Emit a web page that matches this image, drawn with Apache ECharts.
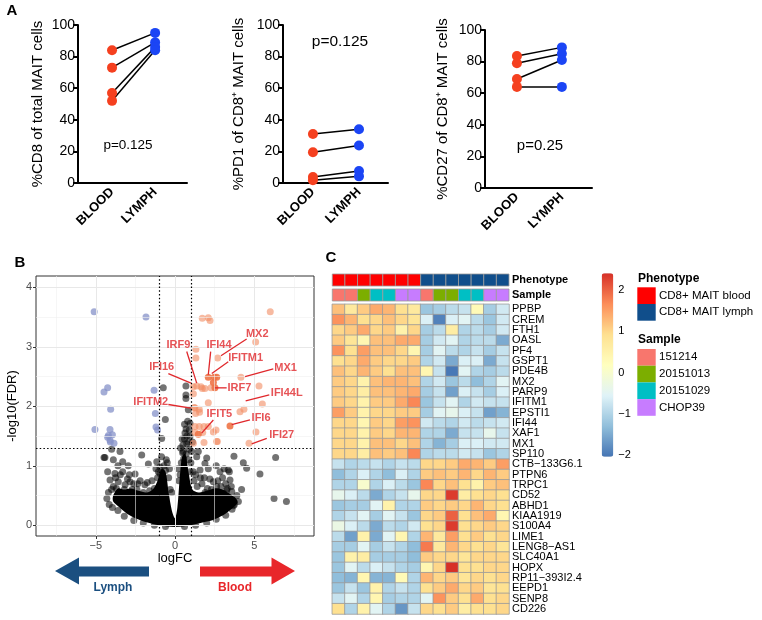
<!DOCTYPE html>
<html><head><meta charset="utf-8">
<script src="https://cdn.jsdelivr.net/npm/echarts@6/dist/echarts.min.js"></script>
<style>html,body{margin:0;padding:0;background:#fff}#c{width:762px;height:620px}</style>
</head><body><div id="c"></div>
<script>
// ---------- Panel A data ----------
const pairCategories = ['BLOOD', 'LYMPH'];
const cd8Blood = [84, 73, 57, 52];
const cd8Lymph = [95, 89, 86, 84];
const pd1Blood = [31, 19.5, 3.8, 1.7];
const pd1Lymph = [34, 23.7, 7.6, 4.2];
const cd27Blood = [83.5, 79, 69, 64];
const cd27Lymph = [89, 85, 81, 64];
const pValueTexts = ['p=0.125', 'p=0.125', 'p=0.25'];
const panelATicks = [0, 20, 40, 60, 80, 100];

// ---------- Panel B data (logFC, -log10 FDR) ----------
const volcanoXTicks = [-5, 0, 5];
const volcanoYTicks = [0, 1, 2, 3, 4];
const fcThresholds = [-1, 1];
const fdrThreshold = 1.301;
const denseCore = [
  [-3.9,0.5],[-3.6,0.62],[-3.2,0.6],[-2.8,0.62],[-2.3,0.58],[-1.8,0.55],[-1.4,0.6],[-1.1,0.75],[-0.85,0.95],
  [-0.6,0.9],[-0.4,0.55],[-0.2,0.25],[0.0,0.12],[0.15,0.3],[0.3,0.8],[0.45,1.15],[0.65,1.2],[0.85,0.9],
  [1.1,0.6],[1.5,0.55],[2.0,0.58],[2.5,0.62],[3.0,0.6],[3.5,0.52],[3.85,0.45],[3.95,0.38],[3.45,0.25],[2.9,0.15],
  [2.4,0.09],[1.8,0.05],[1.0,0.0],[0,-0.03],[-1.0,0.0],[-1.8,0.05],[-2.5,0.12],[-3.05,0.2],[-3.5,0.3],[-3.9,0.4]
];
const notSigPts = [
  [-4.0,1.28],[-4.48,1.14],[-3.47,1.24],[-3.89,1.10],[-3.3,1.07],[-2.1,1.18],[-3.79,0.87],[-3.3,0.90],[-2.88,0.85],
  [-2.52,0.86],[-1.68,1.03],[-0.49,1.05],[-0.95,0.98],[-0.95,0.87],[-4.1,0.76],[-3.89,0.65],[-3.58,0.73],[-3.15,0.68],
  [-2.84,0.73],[-2.6,0.7],[-4.42,1.14],[-1.15,1.07],[-0.84,1.46],[-0.78,0.62],[-4.2,0.55],[-4.0,0.6],[-3.7,0.62],
  [-3.2,0.6],[-2.4,0.6],[-2.0,0.55],[-1.6,0.58],[-1.3,0.62],[-1.1,0.8],[-1.05,0.9],[-0.7,1.0],[-0.6,0.92],[-0.4,0.8],
  [-0.3,0.6],[-0.85,1.15],[-0.7,0.45],[-2.2,0.75],[-1.9,0.68],[-4.3,0.45],[-4.15,0.35],[-3.95,0.3],
  [-3.75,0.8],[-3.45,0.85],[-3.0,0.78],[-2.7,0.6],[-2.35,0.7],[-1.75,0.72],[-1.45,0.75],[-1.2,0.95],[-0.55,1.1],
  [-0.35,0.95],[-0.2,0.55],[-4.25,0.9],[-3.6,1.0],[-2.95,1.0],
  [-0.74,2.31],[-0.61,1.78],[0.69,2.34],[0.69,2.19],[0.69,2.13],[0.84,1.94],[0.95,1.71],[0.8,1.75],[0.9,1.6],
  [0.6,1.45],[0.75,1.5],[0.5,1.35],
  [0.32,0.85],[0.52,1.24],[0.74,1.37],[0.63,1.55],[0.48,1.22],[0.55,1.12],[0.7,1.2],[0.85,1.1],[0.9,1.28],[0.4,1.05],
  [0.25,0.75],[0.6,0.95],[0.95,0.9],[1.05,1.24],[1.37,1.15],[1.58,0.93],[1.89,1.04],[1.47,1.24],[2.0,1.13],[1.2,0.75],
  [1.4,0.65],[1.7,0.7],
  [0.2,0.95],[0.35,1.3],[0.45,1.45],[0.6,1.7],[0.7,1.62],[0.85,1.4],[1.0,1.05],[1.15,0.9],[1.3,0.85],[1.6,0.8],
  [1.85,0.8],[2.2,0.78],[2.7,0.75],[3.1,0.95],[3.3,0.62],[3.55,0.65],[2.1,0.95],[2.6,1.0],[4.2,0.6],[1.1,1.4],[0.95,1.5],
  [2.42,0.73],[2.84,0.90],[3.43,0.90],[3.72,1.16],[4.31,1.05],[4.52,0.96],[5.36,0.86],[6.35,1.14],[6.25,0.45],[7.03,0.40],
  [3.26,0.59],[3.58,0.57],[3.05,0.54],[2.63,0.65],[2.04,0.62],[3.36,0.93],[3.47,0.76],[3.68,0.33],[2.3,0.6],[2.9,0.65],
  [3.9,0.5],[4.0,0.4],[1.9,0.55],[2.5,0.55],[3.2,0.7],[3.0,0.8],
  [-3.6,0.25],[-3.2,0.15],[-2.6,0.08],[-2.0,0.04],[-1.3,0.0],[-0.6,-0.02],[0.6,-0.02],[1.3,0.0],[2.0,0.04],[2.6,0.1],
  [3.2,0.17],[3.6,0.27],[3.75,0.35]
];
const lymphUpPts = [
  [-5.1,3.59],[-1.83,3.5],[-4.25,2.31],[-4.48,2.24],[-1.32,2.27],[-4.06,1.95],[-1.24,1.88],[-5.05,1.61],[-4.1,1.61],
  [-3.95,1.52],[-4.2,1.51],[-4.1,1.43],[-3.85,1.38],[-1.2,1.65],[-1.1,1.60],[-4.25,1.48],[-4.08,1.40]
];
const bloodUpPts = [
  [6.01,3.59],[1.72,3.48],[2.1,3.49],[2.21,3.44],[5.09,3.08],[1.32,2.96],[1.32,2.81],[2.69,2.81],[4.16,2.49],[5.3,2.34],
  [1.16,2.33],[1.37,2.34],[1.64,2.33],[1.72,2.30],[1.89,2.30],[2.27,2.31],[1.16,2.21],[2.1,2.06],[5.51,2.04],[1.22,1.98],
  [1.53,1.95],[4.1,1.91],[4.35,1.95],[1.3,1.88],[1.55,1.9],[1.26,1.66],[1.53,1.66],[1.26,1.56],[1.75,1.56],[2.42,1.57],
  [2.63,1.41],[5.11,1.57],[4.67,1.38],[1.16,1.38],[1.83,1.39],[1.26,1.97],[1.83,1.66],[2.1,1.66],[2.59,1.6],[2.67,1.41]
];
const bloodLabeledPts = [[2.1,2.49],[2.48,2.49],[2.63,2.49],[2.42,2.40],[2.52,2.31],[3.47,1.67],[1.47,1.53]];
const geneLabels = ['IRF9','IFI44','MX2','IFITM1','IFI16','MX1','IRF7','IFI44L','IFITM2','IFIT5','IFI6','IFI27'];
const geneLabelAnchors = [[0.21,3.03],[2.78,3.03],[5.19,3.21],[4.46,2.81],[-0.84,2.66],[6.98,2.64],[4.06,2.31],[7.05,2.22],[-1.53,2.07],[2.8,1.87],[5.43,1.81],[6.73,1.51]];
const geneLeaders = [
  [0.74,2.92,1.37,2.39],[2.25,2.92,2.1,2.53],[4.52,3.13,2.9,2.85],[3.36,2.75,2.32,2.55],[-0.42,2.55,1.01,2.39],
  [6.2,2.63,4.42,2.50],[3.26,2.31,2.52,2.31],[5.95,2.19,4.46,2.09],[-0.42,2.03,0.99,1.97],[2.42,1.77,1.68,1.55],
  [4.73,1.77,3.58,1.69],[5.79,1.46,4.84,1.37]
];

// ---------- Panel C data ----------
const genes = ['PPBP','CREM','FTH1','OASL','PF4','GSPT1','PDE4B','MX2','PARP9','IFITM1','EPSTI1','IFI44','XAF1','MX1','SP110',
  'CTB\u2212133G6.1','PTPN6','TRPC1','CD52','ABHD1','KIAA1919','S100A4','LIME1','LENG8\u2212AS1','SLC40A1','HOPX','RP11\u2212393I2.4','EEPD1','SENP8','CD226'];
const columnIds = ['c1','c2','c3','c4','c5','c6','c7','c8','c9','c10','c11','c12','c13','c14'];
const columnPhenotype = ['CD8+ MAIT blood','CD8+ MAIT blood','CD8+ MAIT blood','CD8+ MAIT blood','CD8+ MAIT blood','CD8+ MAIT blood','CD8+ MAIT blood',
  'CD8+ MAIT lymph','CD8+ MAIT lymph','CD8+ MAIT lymph','CD8+ MAIT lymph','CD8+ MAIT lymph','CD8+ MAIT lymph','CD8+ MAIT lymph'];
const columnSample = ['151214','151214','20151013','20151029','20151029','CHOP39','CHOP39','151214','20151013','20151013','20151029','20151029','CHOP39','CHOP39'];
const phenotypeLevels = ['CD8+ MAIT blood','CD8+ MAIT lymph'];
const sampleLevels = ['151214','20151013','20151029','CHOP39'];
const colorbarTicks = [-2, -1, 0, 1, 2];
const heatMin = -2.03, heatMax = 2.39;
const heatValues = [
 [1.2,0.7,1.1,1.4,1.3,0.9,0.7,-1.2,-1.1,-0.9,-0.8,0.3,-1.1,-0.7],
 [1.6,1.3,0.9,1.0,1.2,1.0,0.8,-0.6,-1.9,-0.6,-0.5,-0.9,-1.2,-0.7],
 [1.0,1.1,1.4,1.0,1.1,0.5,1.0,-1.1,-0.9,0.6,-1.0,-0.9,-1.1,-0.7],
 [1.1,0.8,0.4,1.2,1.2,1.4,1.4,-1.1,-0.7,-0.5,-1.0,-0.9,-0.9,-1.5],
 [1.6,0.9,1.5,1.2,1.2,1.0,0.4,-1.1,-0.5,-0.9,-1.0,-0.8,-1.1,-0.8],
 [0.9,1.0,1.4,1.1,1.0,1.0,1.1,-1.0,-0.7,-1.5,-0.6,-0.6,-1.5,-0.8],
 [1.2,1.0,1.3,1.1,0.9,1.2,1.2,0.4,-0.8,-2.0,-0.5,-1.0,-1.1,-0.9],
 [1.1,1.0,0.5,1.2,1.3,1.3,1.2,-1.0,-0.7,-1.2,-0.9,-1.3,-1.0,-0.5],
 [1.1,1.0,0.6,1.2,1.2,1.3,1.4,-1.1,-0.8,-1.6,-0.6,-0.8,-1.1,-0.6],
 [1.1,1.0,0.5,1.1,1.1,1.4,1.7,-1.2,-0.8,-0.5,-1.0,-0.7,-0.8,-0.8],
 [1.5,1.1,0.5,1.0,1.0,1.1,1.1,-1.1,-0.5,-0.4,-0.6,-0.8,-1.6,-1.4],
 [1.0,1.0,0.4,1.1,1.0,1.5,1.6,-0.7,-0.9,-1.0,-0.7,-0.9,-0.8,-0.7],
 [1.0,1.0,0.5,1.1,1.0,1.3,1.3,-1.0,-1.0,-1.5,-0.8,-0.8,-0.4,-0.8],
 [1.0,1.0,0.5,1.2,1.2,1.0,1.2,-1.0,-1.4,-1.1,-0.6,-0.6,-0.7,-0.7],
 [1.0,1.0,0.6,1.2,1.1,1.2,1.7,-1.0,-0.9,-0.9,-0.7,-0.8,-1.2,-1.0],
 [-0.8,-1.0,-0.9,-0.8,-1.0,-0.8,-0.9,1.0,1.0,1.1,1.4,1.3,1.1,1.5],
 [-1.3,-1.0,-0.6,-1.0,-1.3,-0.6,-1.0,1.1,1.2,1.1,1.3,1.0,1.3,1.1],
 [-1.0,-1.0,0.0,-1.0,-0.6,-0.9,-1.2,1.7,1.0,1.2,0.9,0.5,1.1,1.2],
 [-0.4,-0.6,-0.9,-1.5,-1.0,-0.8,-0.4,1.0,1.0,2.3,0.6,0.9,1.0,0.9],
 [-1.2,-1.1,-1.1,-0.5,0.5,-1.0,-1.0,1.1,1.0,1.1,1.0,1.3,1.0,0.9],
 [-1.0,-0.8,-0.5,-1.1,-0.5,-0.8,-1.2,1.0,1.1,2.0,0.9,1.2,1.4,0.4],
 [-0.3,-0.6,-0.9,-1.5,-0.9,-1.0,-0.7,0.9,1.0,2.3,0.9,1.0,1.1,1.0],
 [-0.9,-1.6,0.5,-1.5,-0.5,0.4,-1.0,1.3,0.7,1.5,0.9,1.1,0.9,1.0],
 [-1.1,-1.1,-0.5,-1.1,-0.8,-1.0,-1.3,1.8,0.7,1.3,1.0,0.9,1.0,0.8],
 [-1.2,0.5,0.6,-1.1,-1.1,-1.1,-1.3,1.1,1.0,1.0,0.8,1.0,1.0,1.0],
 [-1.2,-0.5,-0.9,-0.6,-0.8,-1.0,-1.1,0.4,1.0,2.4,0.9,0.9,1.0,1.0],
 [-1.3,-1.4,0.4,-1.4,-1.4,0.3,-1.0,1.3,1.0,1.1,0.8,1.0,0.9,1.0],
 [-1.2,-0.8,-1.2,0.5,-1.0,-0.8,-1.0,0.9,1.1,1.4,1.0,1.1,0.8,0.9],
 [-0.8,-0.5,-1.0,0.4,-1.1,-1.0,-1.0,-0.5,1.6,1.1,0.9,1.4,0.9,1.0],
 [0.9,-1.0,0.5,-0.5,-1.0,-1.7,-0.8,1.0,0.9,1.1,0.6,0.9,0.9,1.0]
];

// ---------- styling ----------
const FF = '"Liberation Sans", Arial, Helvetica, sans-serif';
const phenoColors = {'CD8+ MAIT blood':'#FF0000','CD8+ MAIT lymph':'#104E8B'};
const sampleColors = {'151214':'#F8766D','20151013':'#7CAE00','20151029':'#00BFC4','CHOP39':'#C77CFF'};
const heatPalette = ['#4575B4','#91BFDB','#E0F3F8','#FFFFBF','#FEE090','#FC8D59','#D73027'];
const minusFmt = v => (v < 0 ? '\u2212' + Math.abs(v) : String(v));

const chart = echarts.init(document.getElementById('c'), null, {renderer: 'canvas'});
const grids = [], xAxes = [], yAxes = [], series = [];

// ---------- Panel A ----------
const panelA = [
  {blood: cd8Blood, lymph: cd8Lymph, title: '%CD8 of total MAIT cells', box: {left: 78, top: 25, width: 109, height: 158}, xr: [-0.79, 1.74], gap: 33},
  {blood: pd1Blood, lymph: pd1Lymph, title: '%PD1 of CD8\u207A MAIT cells', box: {left: 283, top: 25, width: 105, height: 158}, xr: [-0.65, 1.63], gap: 37},
  {blood: cd27Blood, lymph: cd27Lymph, title: '%CD27 of CD8\u207A MAIT cells', box: {left: 485, top: 30, width: 107, height: 158}, xr: [-0.71, 1.67], gap: 35}
];
panelA.forEach((p, k) => {
  grids.push(Object.assign({}, p.box));
  xAxes.push({gridIndex: k, type: 'value', min: p.xr[0], max: p.xr[1],
    axisLine: {show: true, onZero: false, lineStyle: {color: '#000', width: 2}},
    axisTick: {show: false}, splitLine: {show: false},
    axisLabel: {customValues: [0, 1], formatter: v => pairCategories[Math.round(v)], rotate: 45,
      fontWeight: 'bold', fontSize: 13, color: '#000', fontFamily: FF, margin: 7}});
  yAxes.push({gridIndex: k, type: 'value', min: 0, max: 100, interval: 20,
    axisLine: {show: true, onZero: false, lineStyle: {color: '#000', width: 2}},
    axisTick: {show: true, length: 5, lineStyle: {color: '#000', width: 2}},
    splitLine: {show: false},
    axisLabel: {customValues: panelATicks, fontSize: 14, color: '#000', fontFamily: FF, margin: 3},
    name: p.title, nameLocation: 'middle', nameGap: p.gap,
    nameTextStyle: {fontSize: 15, color: '#000', fontFamily: FF}});
  p.blood.forEach((b, i) => series.push({type: 'line', xAxisIndex: k, yAxisIndex: k,
    data: [[0, b], [1, p.lymph[i]]], symbol: 'none', lineStyle: {color: '#000', width: 1.5}, z: 2, silent: true}));
  series.push({type: 'scatter', xAxisIndex: k, yAxisIndex: k, data: p.blood.map(v => [0, v]),
    symbolSize: 10, itemStyle: {color: '#F5401F', opacity: 1}, z: 3});
  series.push({type: 'scatter', xAxisIndex: k, yAxisIndex: k, data: p.lymph.map(v => [1, v]),
    symbolSize: 10, itemStyle: {color: '#1B45F5', opacity: 1}, z: 3});
});

// ---------- Panel B: volcano ----------
const V = 3;
grids.push({left: 36, top: 276, width: 278, height: 260, show: true, borderColor: '#333', borderWidth: 1, backgroundColor: '#fff'});
xAxes.push({gridIndex: V, type: 'value', min: -8.77, max: 8.77,
  axisLine: {show: false, onZero: false}, splitLine: {show: false},
  axisTick: {show: true, customValues: volcanoXTicks, length: 3, lineStyle: {color: '#333'}},
  axisLabel: {customValues: volcanoXTicks, formatter: minusFmt, fontSize: 11, color: '#4d4d4d', fontFamily: FF, margin: 4},
  name: 'logFC', nameLocation: 'middle', nameGap: 16, nameTextStyle: {fontSize: 13, color: '#000', fontFamily: FF}});
yAxes.push({gridIndex: V, type: 'value', min: -0.18, max: 4.19,
  axisLine: {show: false, onZero: false}, splitLine: {show: false},
  axisTick: {show: true, customValues: volcanoYTicks, length: 3, lineStyle: {color: '#333'}},
  axisLabel: {customValues: volcanoYTicks, fontSize: 11, color: '#4d4d4d', fontFamily: FF, margin: 4},
  name: '-log10(FDR)', nameLocation: 'middle', nameGap: 17, nameTextStyle: {fontSize: 13, color: '#000', fontFamily: FF}});
const gl = (axis, vals, width, color) => vals.map(v => ({[axis]: v, lineStyle: {color: color, width: width, type: 'solid'}}));
series.push({type: 'scatter', xAxisIndex: V, yAxisIndex: V, data: [], z: 1, silent: true,
  markLine: {silent: true, symbol: 'none', label: {show: false}, animation: false,
    data: [].concat(gl('xAxis', [-7.5, -2.5, 2.5, 7.5], 0.6, '#f0f0f0'), gl('yAxis', [0.5, 1.5, 2.5, 3.5], 0.6, '#f0f0f0'),
      gl('xAxis', volcanoXTicks, 1, '#e8e8e8'), gl('yAxis', volcanoYTicks, 1, '#e8e8e8'))}});
series.push({type: 'custom', xAxisIndex: V, yAxisIndex: V, data: [[0, 0]], z: 2, silent: true,
  renderItem: (params, api) => ({type: 'polygon', shape: {points: denseCore.map(p => api.coord(p)), smooth: 0.3}, style: {fill: '#000'}})});
series.push({type: 'scatter', xAxisIndex: V, yAxisIndex: V, data: notSigPts, symbolSize: 7, itemStyle: {color: '#000', opacity: 0.55}, z: 3});
series.push({type: 'scatter', xAxisIndex: V, yAxisIndex: V, data: lymphUpPts, symbolSize: 7, itemStyle: {color: '#8591C8', opacity: 0.75}, z: 4});
series.push({type: 'scatter', xAxisIndex: V, yAxisIndex: V, data: bloodUpPts, symbolSize: 7, itemStyle: {color: '#F28C62', opacity: 0.6}, z: 4});
series.push({type: 'scatter', xAxisIndex: V, yAxisIndex: V, data: bloodLabeledPts, symbolSize: 7, itemStyle: {color: '#EE7447', opacity: 0.9}, z: 4});
series.push({type: 'scatter', xAxisIndex: V, yAxisIndex: V, data: [], z: 5, silent: true,
  markLine: {silent: true, symbol: 'none', label: {show: false}, animation: false,
    lineStyle: {color: '#000', width: 1.2, type: [1.5, 2.2]},
    data: fcThresholds.map(v => ({xAxis: v})).concat([{yAxis: fdrThreshold}])}});
series.push({type: 'custom', xAxisIndex: V, yAxisIndex: V, data: geneLeaders, z: 6, silent: true,
  encode: {x: [0, 2], y: [1, 3]},
  renderItem: (params, api) => {
    const a = api.coord([api.value(0), api.value(1)]), b = api.coord([api.value(2), api.value(3)]);
    return {type: 'line', shape: {x1: a[0], y1: a[1], x2: b[0], y2: b[1]}, style: {stroke: '#E0282C', lineWidth: 1.3}};
  }});
series.push({type: 'scatter', xAxisIndex: V, yAxisIndex: V, z: 7, silent: true, symbolSize: 0,
  data: geneLabels.map((g, i) => ({name: g, value: geneLabelAnchors[i]})),
  label: {show: true, position: 'inside', formatter: '{b}', color: '#E0282C', fontWeight: 'bold', fontSize: 11, fontFamily: FF}});

// ---------- Panel C: heatmap ----------
const H = 4;
const hx = 332.3, hw = 176.7;
grids.push({left: hx, top: 304.3, width: hw, height: 309.7});
xAxes.push({gridIndex: H, type: 'category', data: columnIds, show: false});
yAxes.push({gridIndex: H, type: 'category', data: genes, inverse: true, position: 'right',
  axisLine: {show: false}, axisTick: {show: false}, splitLine: {show: false},
  axisLabel: {fontSize: 11, color: '#000', fontFamily: FF, margin: 3, interval: 0}});
const heatData = [];
heatValues.forEach((row, r) => row.forEach((v, c) => heatData.push([c, r, v])));
const heatSeriesIndex = series.length;
series.push({type: 'heatmap', xAxisIndex: H, yAxisIndex: H, data: heatData,
  itemStyle: {borderColor: '#9a9a9a', borderWidth: 0.8}, emphasis: {disabled: true}});

// annotation bars
const annRows = [
  {name: 'Phenotype', top: 274, values: columnPhenotype, colors: phenoColors},
  {name: 'Sample', top: 289, values: columnSample, colors: sampleColors}
];
annRows.forEach((a, j) => {
  const g = 5 + j;
  grids.push({left: hx, top: a.top, width: hw, height: 12});
  xAxes.push({gridIndex: g, type: 'category', data: columnIds, show: false});
  yAxes.push({gridIndex: g, type: 'category', data: [a.name], position: 'right',
    axisLine: {show: false}, axisTick: {show: false},
    axisLabel: {fontSize: 11, fontWeight: 'bold', color: '#000', fontFamily: FF, margin: 3}});
  series.push({type: 'custom', xAxisIndex: g, yAxisIndex: g, silent: true,
    data: a.values.map((v, i) => [i, 0]),
    renderItem: (params, api) => {
      const p = api.coord([api.value(0), 0]);
      const s = api.size([1, 1]);
      return {type: 'rect', shape: {x: p[0] - s[0] / 2, y: p[1] - s[1] / 2, width: s[0], height: s[1]},
        style: {fill: a.colors[a.values[params.dataIndex]], stroke: '#9a9a9a', lineWidth: 0.8}};
    }});
});

// colorbar axis
const CB = 7;
const cbLeft = 601.7, cbTop = 273.3, cbW = 11.6, cbH = 183.4;
grids.push({left: cbLeft, top: cbTop, width: cbW, height: cbH});
xAxes.push({gridIndex: CB, type: 'value', show: false, min: 0, max: 1});
yAxes.push({gridIndex: CB, type: 'value', min: heatMin, max: heatMax, position: 'right',
  axisLine: {show: false}, axisTick: {show: false}, splitLine: {show: false},
  axisLabel: {customValues: colorbarTicks, formatter: minusFmt, fontSize: 11, color: '#000', fontFamily: FF, margin: 5}});
series.push({type: 'scatter', xAxisIndex: CB, yAxisIndex: CB, data: []});

// ---------- graphics (panel letters, annotations, arrows, legend) ----------
const T = (x, y, text, o) => Object.assign({type: 'text', x: x, y: y, silent: true,
  style: Object.assign({text: text, fontFamily: FF, fontSize: 13, fill: '#000', align: 'center', verticalAlign: 'middle'}, o || {})});
const graphics = [
  T(12, 11, 'A', {fontSize: 15, fontWeight: 'bold'}),
  T(20, 263, 'B', {fontSize: 15, fontWeight: 'bold'}),
  T(331, 258, 'C', {fontSize: 15, fontWeight: 'bold'}),
  T(128, 145, pValueTexts[0], {fontSize: 13.5}),
  T(340, 42, pValueTexts[1], {fontSize: 15.5}),
  T(540, 146, pValueTexts[2], {fontSize: 15}),
  {type: 'polygon', silent: true, shape: {points: [[55, 571], [79, 557.5], [79, 566.5], [149, 566.5], [149, 576.5], [79, 576.5], [79, 584.5]]}, style: {fill: '#1B4F80'}},
  {type: 'polygon', silent: true, shape: {points: [[295, 571], [271.5, 557.5], [271.5, 566.5], [200, 566.5], [200, 576.5], [271.5, 576.5], [271.5, 584.5]]}, style: {fill: '#E8262A'}},
  T(113, 588, 'Lymph', {fontSize: 12, fontWeight: 'bold', fill: '#1B4F80'}),
  T(235, 588, 'Blood', {fontSize: 12, fontWeight: 'bold', fill: '#E8262A'}),
  T(638, 279, 'Phenotype', {fontSize: 12, fontWeight: 'bold', align: 'left'}),
  T(638, 340, 'Sample', {fontSize: 12, fontWeight: 'bold', align: 'left'})
];
phenotypeLevels.forEach((lv, i) => {
  const y0 = 287.3 + i * 16.7;
  graphics.push({type: 'rect', silent: true, shape: {x: 637.3, y: y0, width: 18.4, height: 16.7}, style: {fill: phenoColors[lv]}});
  graphics.push(T(659, y0 + 8.3, lv, {fontSize: 11.5, align: 'left'}));
});
sampleLevels.forEach((lv, i) => {
  const y0 = 349 + i * 16.7;
  graphics.push({type: 'rect', silent: true, shape: {x: 637.3, y: y0, width: 18.4, height: 16.7}, style: {fill: sampleColors[lv]}});
  graphics.push(T(659, y0 + 8.3, lv, {fontSize: 11.5, align: 'left'}));
});

chart.setOption({
  animation: false,
  backgroundColor: '#fff',
  textStyle: {fontFamily: FF},
  grid: grids, xAxis: xAxes, yAxis: yAxes, series: series,
  visualMap: {type: 'continuous', seriesIndex: heatSeriesIndex, min: heatMin, max: heatMax,
    inRange: {color: heatPalette}, calculable: false, orient: 'vertical',
    left: cbLeft, top: cbTop, itemWidth: cbW, itemHeight: cbH, padding: 0, text: null, showLabel: false},
  graphic: graphics
});
</script>
</body></html>
